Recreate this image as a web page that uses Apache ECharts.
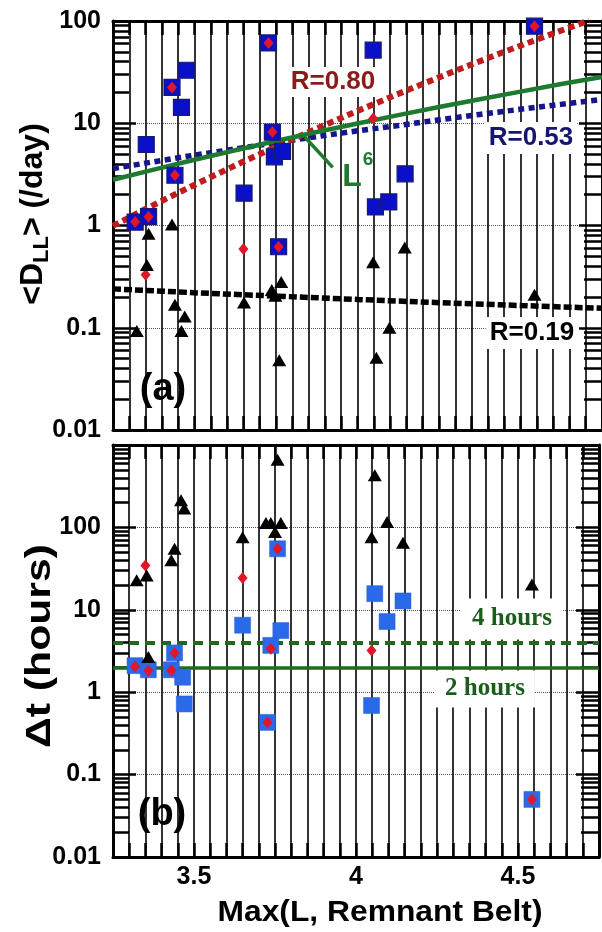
<!DOCTYPE html>
<html><head><meta charset="utf-8">
<script src="https://cdn.jsdelivr.net/npm/echarts@6/dist/echarts.min.js"></script>
<style>html,body{margin:0;padding:0;background:#fff}#c{width:602px;height:932px}</style>
</head><body><div id="c"></div>
<script>
// ---- tick labels ----
const xTickValues = [3.5, 4, 4.5];
const xTickLabels = ['3.5', '4', '4.5'];
const yTickValuesA = [0.01, 0.1, 1, 10, 100];
const yTickLabelsA = ['0.01', '0.1', '1', '10', '100'];
const yTickValuesB = [0.01, 0.1, 1, 10, 100];
const yTickLabelsB = ['0.01', '0.1', '1', '10', '100'];

// ---- panel (a): <D_LL> (/day) ----
const dllSquares = [[3.318,1.08],[3.359,1.22],[3.352,6.2],[3.431,22.4],[3.44,3.1],[3.46,14.3],[3.475,33],[3.652,2.07],[3.727,61],[3.739,8.2],[3.745,4.7],[3.77,5.3],[3.758,0.62],[4.048,52],[4.055,1.52],[4.096,1.7],[4.146,3.2],[4.543,89]];
const dllDiamonds = [[3.318,1.08],[3.359,1.22],[3.431,22.4],[3.44,3.1],[3.727,61],[3.739,8.2],[3.758,0.62],[4.543,89],[3.35,0.33],[3.65,0.59],[4.048,11.1]];
const dllTriangles = [[3.323,0.093],[3.354,0.41],[3.359,0.83],[3.431,1.02],[3.44,0.168],[3.47,0.129],[3.46,0.093],[3.652,0.177],[3.737,0.234],[3.766,0.28],[3.748,0.206],[3.76,0.048],[4.048,0.436],[4.145,0.61],[4.098,0.10],[4.058,0.051],[4.543,0.21]];
// fit curves
const fitRed = [[3.25,0.99],[3.35,1.45],[3.45,2.09],[3.55,2.98],[3.65,4.22],[3.75,5.9],[3.85,8.2],[4.0,13.2],[4.15,20.9],[4.3,32.6],[4.45,50],[4.6,75.5],[4.71,101]];
const fitBlue = [[3.25,3.6],[3.375,4.2],[3.5,4.88],[3.625,5.6],[3.75,6.47],[3.875,7.4],[4.0,8.43],[4.125,9.5],[4.25,10.8],[4.375,12.2],[4.5,13.7],[4.625,15.3],[4.75,17.1]];
const fitGreen = [[3.25,2.8],[3.375,3.52],[3.5,4.4],[3.625,5.45],[3.75,6.7],[3.875,8.2],[4.0,9.95],[4.125,12.0],[4.25,14.4],[4.375,17.2],[4.5,20.4],[4.625,24.2],[4.75,28.4]];
const fitBlack = [[3.25,0.24],[3.5,0.22],[3.75,0.204],[4.0,0.189],[4.25,0.176],[4.5,0.165],[4.75,0.155]];
const l6Pointer = [[3.839,7.3],[3.924,3.7]];

// ---- panel (b): Δt (hours) ----
const dtSquares = [[3.318,2.1],[3.359,1.87],[3.43,1.87],[3.44,3.0],[3.465,1.52],[3.47,0.72],[3.65,6.5],[3.737,3.7],[3.768,5.6],[3.758,55],[3.727,0.43],[4.058,15.7],[4.145,12.8],[4.096,7.2],[4.048,0.69],[4.543,0.05]];
const dtDiamonds = [[3.318,2.05],[3.359,1.82],[3.43,1.85],[3.44,3.0],[3.737,3.37],[3.758,55],[3.727,0.43],[4.543,0.05],[3.35,34.6],[3.65,24.3],[4.048,3.2]];
const dtTriangles = [[3.323,22.8],[3.354,26],[3.359,2.67],[3.43,40],[3.44,55],[3.46,213],[3.47,169],[3.65,76],[3.722,113],[3.737,113],[3.768,113],[3.75,88],[3.758,662],[4.048,76],[4.058,428],[4.096,116],[4.145,65],[4.543,20.3]];
const hourLines = [4, 2];

const FONT = '"Liberation Sans", Arial, sans-serif';
const SERIF = '"Liberation Serif", "Times New Roman", serif';

function minorValues(lo, hi) {
  const out = [];
  for (let e = lo; e < hi; e++) {
    for (let k = 2; k <= 9; k++) out.push(k * Math.pow(10, e));
  }
  return out;
}
function matchLabel(v, vals, labels) {
  for (let i = 0; i < vals.length; i++) {
    if (Math.abs(v - vals[i]) <= 1e-6 * Math.max(1, Math.abs(vals[i]))) return labels[i];
  }
  return '';
}
function xAxisCfg(gridIndex, position, showLabels) {
  return {
    type: 'value', gridIndex, position, min: 3.25, max: 4.75, interval: 0.05,
    axisLine: {show: true, onZero: false, lineStyle: {color: '#000', width: 3}},
    axisTick: {show: true, inside: true, length: 14, lineStyle: {color: '#000', width: 2.5}},
    axisLabel: {show: showLabels, margin: 8, color: '#000', fontFamily: FONT, fontWeight: 'bold', fontSize: 25,
      formatter: v => matchLabel(v, xTickValues, xTickLabels)},
    splitLine: {show: position === 'bottom', lineStyle: {color: '#000', width: 1.6}}
  };
}
function yAxes(gridIndex, min, max, vals, labels) {
  const minors = minorValues(Math.round(Math.log10(min)), Math.round(Math.log10(max)));
  const base = {type: 'log', logBase: 10, gridIndex, min, max};
  return [
    Object.assign({}, base, {position: 'left',
      axisLine: {show: true, lineStyle: {color: '#000', width: 3}},
      axisTick: {show: true, inside: true, length: 23, lineStyle: {color: '#000', width: 2.5}},
      axisLabel: {show: true, margin: 12, color: '#000', fontFamily: FONT, fontWeight: 'bold', fontSize: 25,
        formatter: v => matchLabel(v, vals, labels)},
      splitLine: {show: true, lineStyle: {color: '#555', width: 1, type: 'dotted'}}}),
    Object.assign({}, base, {position: 'left',
      axisLine: {show: false},
      axisTick: {show: true, inside: true, length: 16, customValues: minors, lineStyle: {color: '#000', width: 2.5}},
      axisLabel: {show: false}, splitLine: {show: false}}),
    Object.assign({}, base, {position: 'right',
      axisLine: {show: true, lineStyle: {color: '#000', width: 3}},
      axisTick: {show: true, inside: true, length: 23, lineStyle: {color: '#000', width: 2.5}},
      axisLabel: {show: false}, splitLine: {show: false}}),
    Object.assign({}, base, {position: 'right',
      axisLine: {show: false},
      axisTick: {show: true, inside: true, length: 18, customValues: minors, lineStyle: {color: '#000', width: 2.5}},
      axisLabel: {show: false}, splitLine: {show: false}})
  ];
}
function lineSeries(data, xi, yi, color, width, dash, z) {
  return {type: 'line', xAxisIndex: xi, yAxisIndex: yi, data, showSymbol: false, symbol: 'none',
    lineStyle: {color, width, type: dash || 'solid', cap: 'butt'}, z: z || 3, silent: true};
}
function scatter(data, xi, yi, symbol, size, fill, border, bw, z) {
  return {type: 'scatter', xAxisIndex: xi, yAxisIndex: yi, data, symbol, symbolSize: size,
    itemStyle: {color: fill, borderColor: border, borderWidth: bw, opacity: 1}, z, silent: true};
}

const chart = echarts.init(document.getElementById('c'), null, {renderer: 'canvas'});
const option = {
  animation: false,
  backgroundColor: '#fff',
  grid: [
    {left: 113, top: 21, width: 494, height: 409},
    {left: 113, top: 445, width: 494, height: 412}
  ],
  xAxis: [xAxisCfg(0, 'bottom', false), xAxisCfg(0, 'top', false), xAxisCfg(1, 'bottom', true), xAxisCfg(1, 'top', false)],
  yAxis: [].concat(yAxes(0, 0.01, 100, yTickValuesA, yTickLabelsA), yAxes(1, 0.01, 1000, yTickValuesB, yTickLabelsB)),
  series: [
    lineSeries(fitBlack, 0, 0, '#000', 5.5, [8, 3], 3),
    lineSeries(fitBlue, 0, 0, '#15158c', 5.5, [6, 4.5], 3),
    lineSeries(fitRed, 0, 0, '#c01c1c', 6, [6.5, 4.3], 3),
    lineSeries(fitGreen, 0, 0, '#1e7a2e', 4.5, 'solid', 4),
    lineSeries(l6Pointer, 0, 0, '#1e7a2e', 3.5, 'solid', 4),
    scatter(dllSquares, 0, 0, 'rect', 16, '#0a10c8', '#1a1a70', 1.2, 5),
    scatter(dllDiamonds, 0, 0, 'diamond', [10, 12], '#e0162a', '#e0162a', 0, 6),
    scatter(dllTriangles, 0, 0, 'triangle', [14, 12], '#000', '#000', 0, 6),
    {type: 'line', xAxisIndex: 2, yAxisIndex: 4, data: [], symbol: 'none', silent: true, z: 3,
      markLine: {silent: true, symbol: ['none', 'none'], label: {show: false},
        data: [
          {yAxis: hourLines[0], lineStyle: {color: '#1f6a1f', width: 4, type: [10, 6]}},
          {yAxis: hourLines[1], lineStyle: {color: '#1f6a1f', width: 3.5, type: 'solid'}}
        ]}},
    scatter(dtSquares, 2, 4, 'rect', 16, '#2a6ae8', '#2a5ad0', 0.5, 5),
    scatter(dtDiamonds, 2, 4, 'diamond', [10, 12], '#e0162a', '#e0162a', 0, 6),
    scatter(dtTriangles, 2, 4, 'triangle', [14, 12], '#000', '#000', 0, 6)
  ],
  graphic: [
    {type: 'text', x: 333, y: 82, z: 10, style: {text: 'R=0.80', fill: '#8b1a1a', font: 'bold 26px ' + FONT, align: 'center', verticalAlign: 'middle', backgroundColor: '#fff', padding: [2, 3]}},
    {type: 'text', x: 531, y: 138, z: 10, style: {text: 'R=0.53', fill: '#161670', font: 'bold 26px ' + FONT, align: 'center', verticalAlign: 'middle', backgroundColor: '#fff', padding: [3, 4]}},
    {type: 'text', x: 532, y: 333, z: 10, style: {text: 'R=0.19', fill: '#000', font: 'bold 26px ' + FONT, align: 'center', verticalAlign: 'middle', backgroundColor: '#fff', padding: [3, 4]}},
    {type: 'text', x: 352, y: 177, z: 10, style: {text: 'L', fill: '#1e7a2e', font: 'bold 32px ' + FONT, align: 'center', verticalAlign: 'middle'}},
    {type: 'text', x: 368, y: 160, z: 10, style: {text: '6', fill: '#1e7a2e', font: 'bold 19px ' + FONT, align: 'center', verticalAlign: 'middle'}},
    {type: 'text', x: 163, y: 390, z: 10, style: {text: '(a)', fill: '#000', font: 'bold 38px ' + FONT, align: 'center', verticalAlign: 'middle'}},
    {type: 'text', x: 162, y: 815, z: 10, style: {text: '(b)', fill: '#000', font: 'bold 38px ' + FONT, align: 'center', verticalAlign: 'middle'}},
    {type: 'text', x: 512, y: 619, z: 10, style: {text: '4 hours', fill: '#1b5e1b', font: 'bold 25px ' + SERIF, align: 'center', verticalAlign: 'middle', backgroundColor: '#fff', padding: [8, 11]}},
    {type: 'text', x: 485, y: 689, z: 10, style: {text: '2 hours', fill: '#1b5e1b', font: 'bold 25px ' + SERIF, align: 'center', verticalAlign: 'middle', backgroundColor: '#fff', padding: [6, 10]}},
    {type: 'text', x: 380, y: 913, z: 10, scaleX: 1.06, style: {text: 'Max(L, Remnant Belt)', fill: '#000', font: 'bold 30px ' + FONT, align: 'center', verticalAlign: 'middle'}},
    {type: 'text', x: 35, y: 214, rotation: Math.PI / 2, z: 10, style: {
      text: '{m|<D}{s|LL}{m|> (/day)}', align: 'center', verticalAlign: 'middle',
      rich: {
        m: {fontFamily: FONT, fontWeight: 'bold', fontSize: 32, lineHeight: 36, verticalAlign: 'top', fill: '#000', color: '#000'},
        s: {fontFamily: FONT, fontWeight: 'bold', fontSize: 22, lineHeight: 22, padding: [26, 0, 0, 0], verticalAlign: 'bottom', fill: '#000', color: '#000'}
      }}},
    {type: 'text', x: 40, y: 646, rotation: Math.PI / 2, scaleX: 1.22, z: 10, style: {text: 'Δt (hours)', fill: '#000', font: 'bold 35px ' + FONT, align: 'center', verticalAlign: 'middle'}}
  ]
};
chart.setOption(option);
</script>
</body></html>
